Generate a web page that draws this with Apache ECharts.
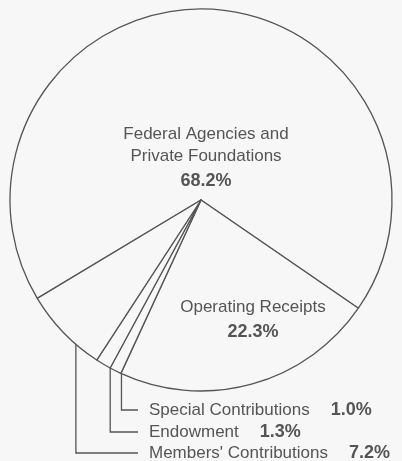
<!DOCTYPE html>
<html><head><meta charset="utf-8">
<script src="https://cdn.jsdelivr.net/npm/echarts@6/dist/echarts.min.js"></script>
<style>html,body{margin:0;padding:0;background:#f7f7f7}#c{width:402px;height:461px}</style>
</head><body><div id="c"></div>
<script>
const categories = ['Federal Agencies and\nPrivate Foundations', 'Operating Receipts', 'Special Contributions', 'Endowment', "Members' Contributions"];
const values = [68.2, 22.3, 1.0, 1.3, 7.2];
const percentLabels = ['68.2%', '22.3%', '1.0%', '1.3%', '7.2%'];

const startAngle = 211;
const cx = 201, cy = 200, R = 191;
const ink = '#555';
const font = '"Liberation Sans", Arial, sans-serif';

const total = values.reduce((a, b) => a + b, 0);
const mids = [];
let acc = 0;
values.forEach(v => {
  const a0 = startAngle - acc / total * 360;
  acc += v;
  const a1 = startAngle - acc / total * 360;
  mids.push((a0 + a1) / 2);
});

const calloutY = {2: 410, 3: 432, 4: 453};
const calloutX = 149, lineEndX = 138;

const data = categories.map((name, i) => {
  const inside = i < 2;
  let fmt;
  if (inside) {
    fmt = name.split('\n').map(s => '{n|' + s + '}').join('\n') + '\n{p|' + percentLabels[i] + '}';
  } else {
    fmt = '{n|' + name + '}{p|' + percentLabels[i] + '}';
  }
  return {
    name, value: values[i],
    label: {
      show: true, position: inside ? 'inside' : 'outside', formatter: fmt,
      rich: {
        n: {fontFamily: font, fontSize: 17, color: ink, lineHeight: inside ? 22 : 20},
        p: {fontFamily: font, fontSize: 18, fontWeight: 'bold', color: ink, lineHeight: inside ? 28 : 20,
            padding: inside ? [0, 0, 0, 0] : [0, 0, 0, 21]}
      }
    },
    labelLine: {show: !inside, lineStyle: {color: ink, width: 1.3}}
  };
});

const chart = echarts.init(document.getElementById('c'), null, {renderer: 'canvas'});
chart.setOption({
  backgroundColor: '#f7f7f7',
  animation: false,
  series: [{
    type: 'pie',
    center: [cx, cy],
    radius: R,
    startAngle: startAngle,
    clockwise: true,
    avoidLabelOverlap: false,
    silent: true,
    itemStyle: {color: '#f7f7f7', borderColor: ink, borderWidth: 1.3},
    emphasis: {disabled: true},
    data: data,
    labelLayout: function (p) {
      const i = p.dataIndex;
      if (i === 0) return {x: cx + 5, y: cy - 41, align: 'center', verticalAlign: 'middle'};
      if (i === 1) return {x: cx + 52, y: cy + 121, align: 'center', verticalAlign: 'middle'};
      const a = mids[i] * Math.PI / 180;
      const rr = R * (i === 4 ? 0.91 : 0.93);
      const sx = cx + rr * Math.cos(a), sy = cy - rr * Math.sin(a);
      const ly = calloutY[i];
      return {x: calloutX, y: ly, align: 'left', verticalAlign: 'middle',
              labelLinePoints: [[sx, sy], [sx, ly], [lineEndX, ly]]};
    }
  }]
});
</script></body></html>
